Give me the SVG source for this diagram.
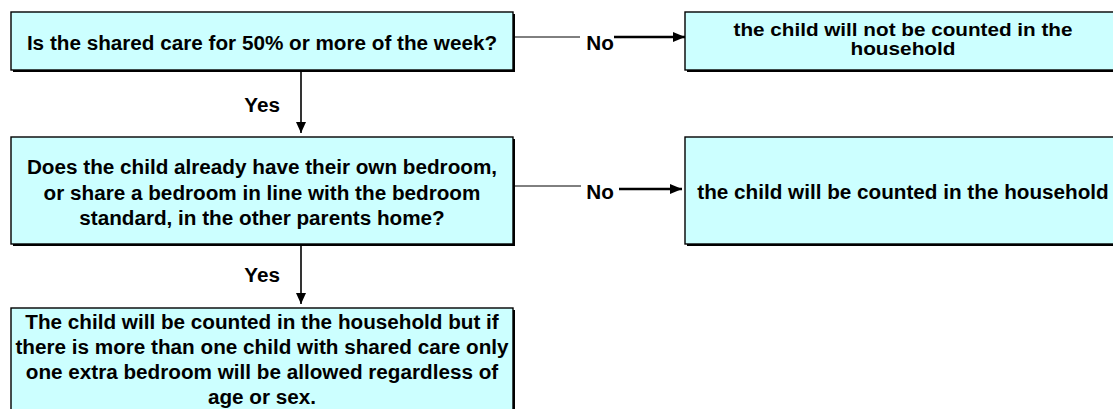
<svg xmlns="http://www.w3.org/2000/svg" width="1113" height="409" viewBox="0 0 1113 409">
<style>
  .box { fill: #CCFFFF; stroke: #000; stroke-width: 1.4; }
  .shadow { fill: #000; }
  text { font-family: "Liberation Sans", Arial, sans-serif; font-weight: bold; font-size: 20.7px; fill: #000; }
  .c { text-anchor: middle; }
  .sm { font-size: 18.5px; }
  .thin { stroke: #000; stroke-width: 1; fill: none; }
  .thick { stroke: #000; stroke-width: 2.6; fill: none; }
  .vert { stroke: #000; stroke-width: 1.6; fill: none; }
</style>
<defs>
  <marker id="ah" markerUnits="userSpaceOnUse" markerWidth="14" markerHeight="12" refX="12" refY="5" orient="auto">
    <path d="M0,0 L12,5 L0,10 z" fill="#000"/>
  </marker>
  <marker id="ahv" markerUnits="userSpaceOnUse" markerWidth="14" markerHeight="12" refX="11" refY="5" orient="auto">
    <path d="M0,0 L11,5 L0,10 z" fill="#000"/>
  </marker>
</defs>
<rect width="1113" height="409" fill="#fff"/>

<g id="connectors">
  <line class="thin" x1="514" y1="37" x2="580" y2="37"/>
  <text x="600" y="49.5" class="c">No</text>
  <line class="thick" x1="614" y1="37" x2="685" y2="37" marker-end="url(#ah)"/>

  <line class="thin" x1="514" y1="186" x2="581" y2="186"/>
  <text x="600" y="199" class="c">No</text>
  <line class="thick" x1="619" y1="189" x2="682" y2="189" marker-end="url(#ah)"/>

  <line class="vert" x1="301" y1="71" x2="301" y2="133" marker-end="url(#ahv)"/>
  <text x="280" y="112" text-anchor="end">Yes</text>

  <line class="vert" x1="301" y1="245" x2="301" y2="304" marker-end="url(#ahv)"/>
  <text x="280" y="282" text-anchor="end">Yes</text>
</g>

<g id="q1">
  <rect class="shadow" x="13" y="14" width="502" height="58"/>
  <rect class="box" x="11" y="12" width="502" height="58"/>
  <text x="262" y="49.5" class="c">Is the shared care for 50% or more of the week?</text>
</g>

<g id="notCounted">
  <rect class="shadow" x="687" y="14" width="436" height="58"/>
  <rect class="box" x="685" y="12" width="436" height="58"/>
  <text x="903" y="35.5" class="c sm" textLength="339" lengthAdjust="spacingAndGlyphs">the child will not be counted in the</text>
  <text x="903" y="55" class="c sm" textLength="105" lengthAdjust="spacingAndGlyphs">household</text>
</g>

<g id="q2">
  <rect class="shadow" x="13" y="139" width="502" height="107"/>
  <rect class="box" x="11" y="137" width="502" height="107"/>
  <text x="262" y="174" class="c">Does the child already have their own bedroom,</text>
  <text x="262" y="199.5" class="c">or share a bedroom in line with the bedroom</text>
  <text x="262" y="225" class="c">standard, in the other parents home?</text>
</g>

<g id="counted">
  <rect class="shadow" x="687" y="139" width="436" height="107"/>
  <rect class="box" x="685" y="137" width="436" height="107"/>
  <text x="903" y="198.5" class="c">the child will be counted in the household</text>
</g>

<g id="countedShared">
  <rect class="shadow" x="13" y="310" width="502" height="120"/>
  <rect class="box" x="11" y="308" width="502" height="120"/>
  <text x="262" y="329" class="c">The child will be counted in the household but if</text>
  <text x="262" y="354" class="c">there is more than one child with shared care only</text>
  <text x="262" y="379" class="c">one extra bedroom will be allowed regardless of</text>
  <text x="262" y="404" class="c">age or sex.</text>
</g>
</svg>
